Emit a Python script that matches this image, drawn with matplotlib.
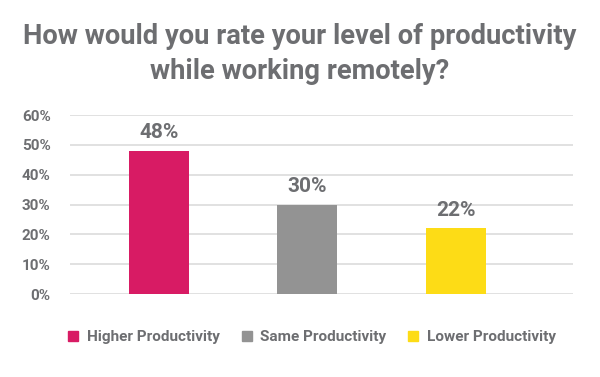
import matplotlib.pyplot as plt
from matplotlib.patches import Patch

# data
categories = ["Higher Productivity", "Same Productivity", "Lower Productivity"]
values = [48, 30, 22]
colors = ["#d81b64", "#939393", "#fddc16"]
yticks = [0, 10, 20, 30, 40, 50, 60]

text_gray = "#6d6e71"
plt.rcParams['font.family'] = ['Roboto', 'DejaVu Sans']

fig = plt.figure(figsize=(6, 3.77), dpi=100)
ax = fig.add_axes([70 / 600, 1 - 294 / 377, (573 - 70) / 600, (294 - 115) / 377])

x = list(range(len(categories)))
ax.bar(x, values, width=0.404, color=colors, zorder=3)
for xi, v in zip(x, values):
    ax.text(xi, v + 2.8, f"{v}%", ha="center", va="bottom", fontsize=15,
            fontweight="bold", color=text_gray)

ax.set_xlim(-0.6, 2.79)
ax.set_ylim(0, 60)
ax.set_yticks(yticks)
ax.set_yticklabels([f"{t}%" for t in yticks])
ax.set_xticks([])
ax.grid(axis="y", color="#dcdcdc", linewidth=1.2, zorder=0)
for s in ax.spines.values():
    s.set_visible(False)
ax.tick_params(axis="y", length=0, pad=14, labelsize=11, labelcolor=text_gray)
for lab in ax.get_yticklabels():
    lab.set_fontweight("bold")

fig.text(0.5, 0.857, "How would you rate your level of productivity\nwhile working remotely?",
         ha="center", va="center", fontsize=19.7, fontweight="bold", color=text_gray,
         linespacing=1.38)

handles = [Patch(color=c, label=l) for c, l in zip(colors, categories)]
leg = fig.legend(handles=handles, loc="center", bbox_to_anchor=(0.52, 0.105), ncol=3,
                 frameon=False, handlelength=0.65, handleheight=0.65, handletextpad=0.55,
                 columnspacing=1.45, prop={"size": 11, "weight": "bold"})
for t in leg.get_texts():
    t.set_color(text_gray)

fig.savefig("out.png", dpi=100)
